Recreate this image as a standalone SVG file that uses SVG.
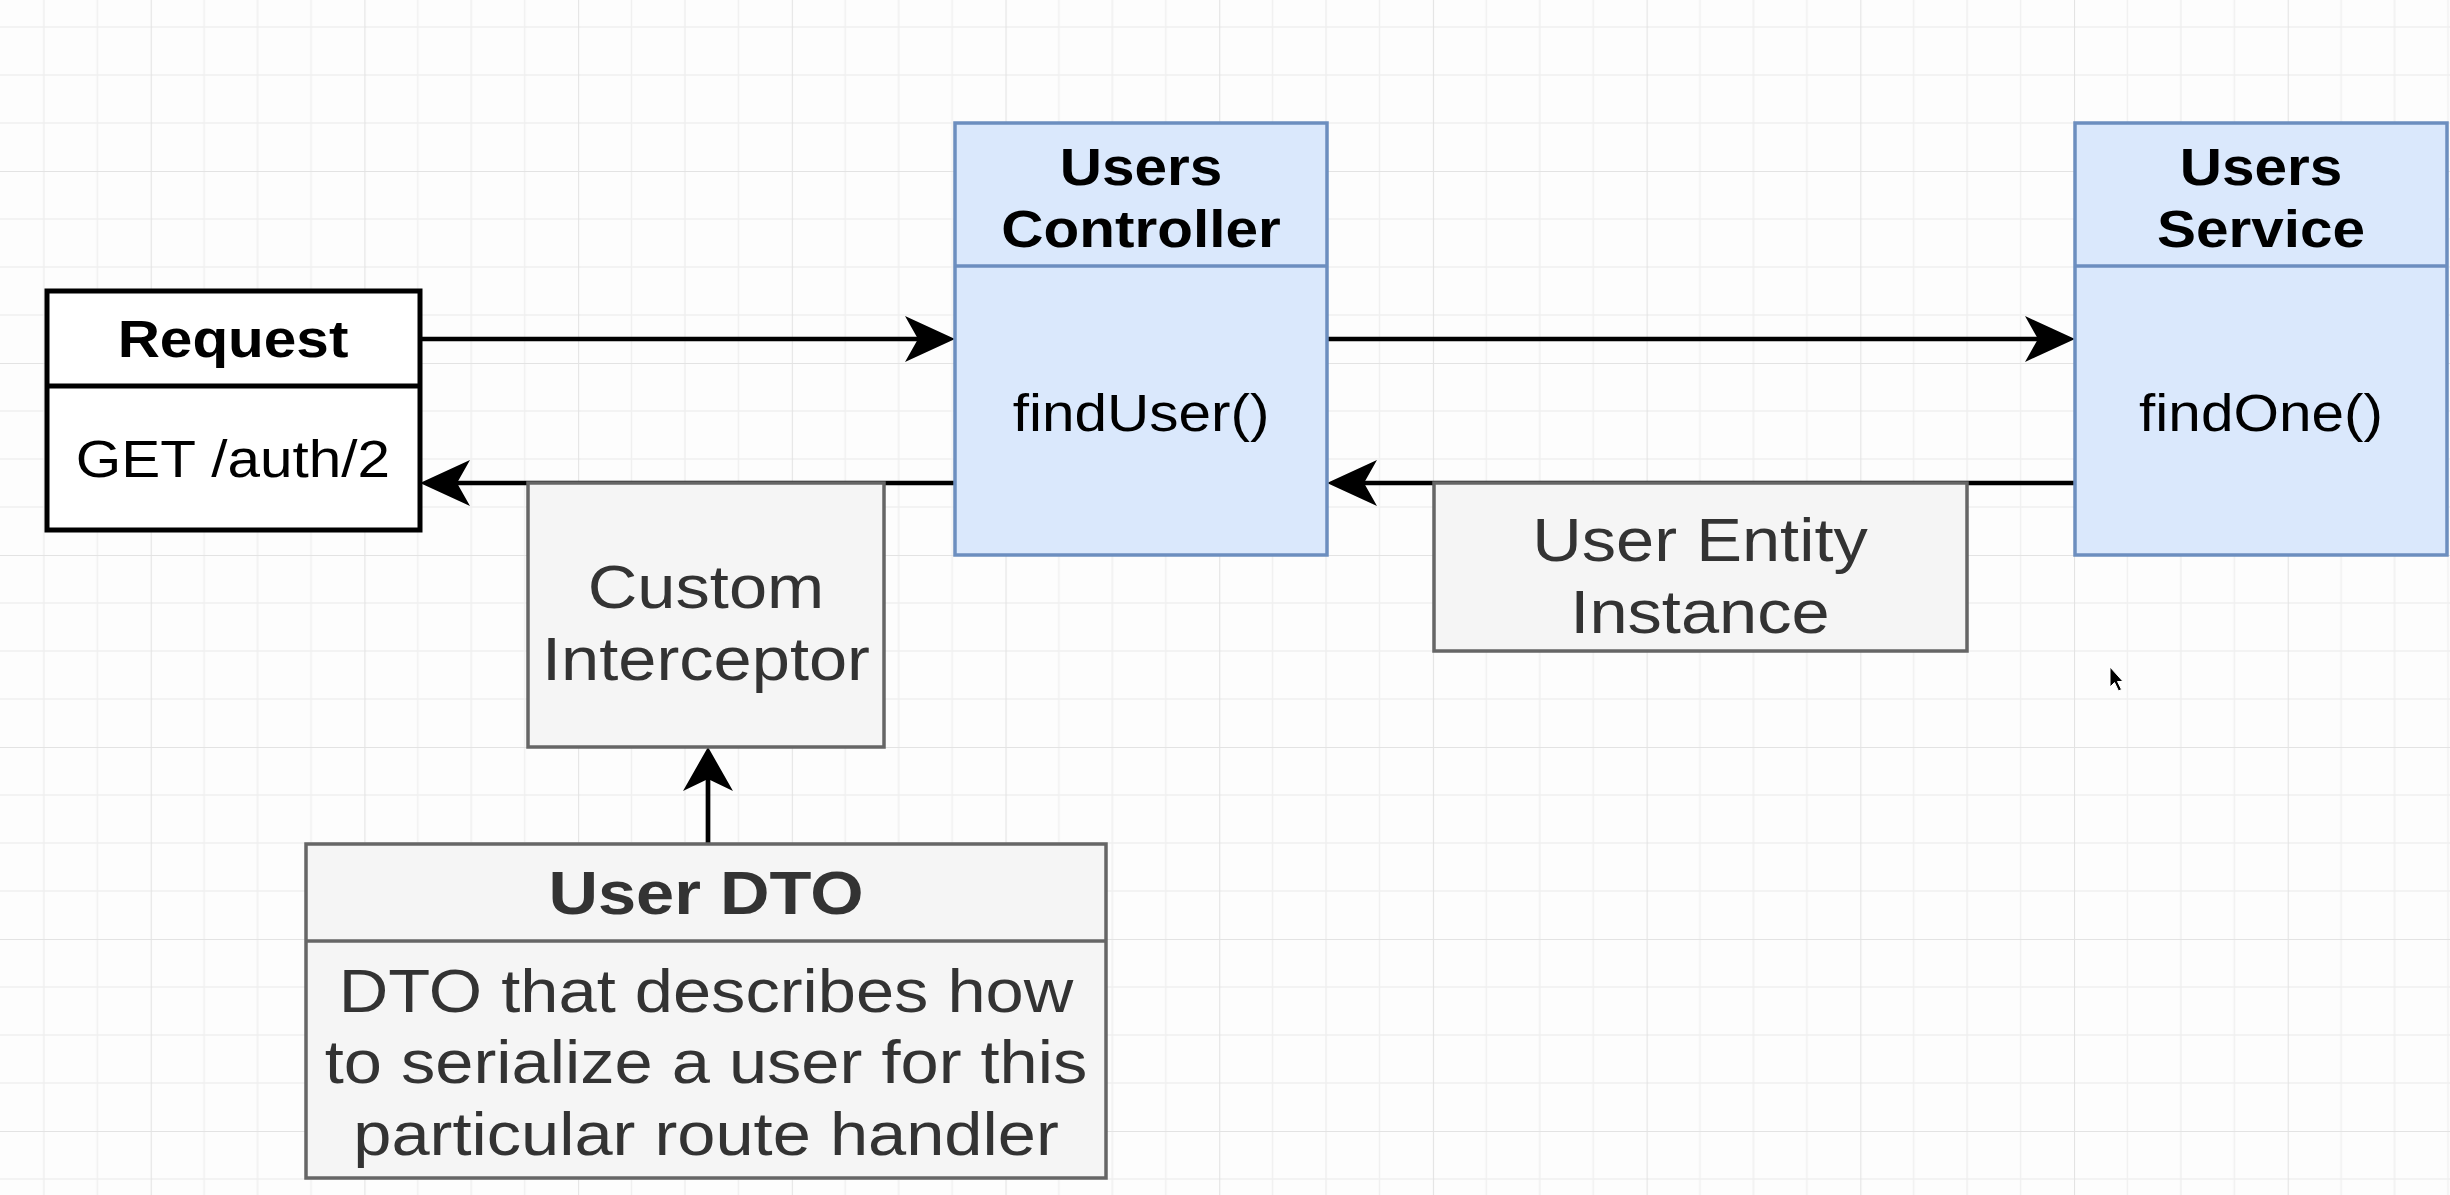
<svg xmlns="http://www.w3.org/2000/svg" width="2450" height="1195" viewBox="0 0 2450 1195">
<style>
.t{font-family:"Liberation Sans",Arial,Helvetica,sans-serif;text-anchor:middle}
.s{font-size:52px;fill:#000}
.l{font-size:61px;fill:#333}
.bd{font-weight:bold}
.blue{fill:#dae8fc;stroke:#6c8ebf;stroke-width:3.5}
.gray{fill:#f5f5f5;stroke:#666;stroke-width:3.5}
.plain{fill:#fff;stroke:#000;stroke-width:5}
.conn{fill:none;stroke:#000;stroke-width:4.7}
</style>
<defs>
<pattern id="grid" patternUnits="userSpaceOnUse" x="150.7" y="171" width="213.7" height="192">
<path d="M53.4,0V192M106.85,0V192M160.3,0V192M0,48H213.7M0,96H213.7M0,144H213.7" fill="none" stroke="#f0f0f0" stroke-width="1.5"/>
<path d="M0,0V192M0,0H213.7" fill="none" stroke="#e3e3e3" stroke-width="2.2"/>
</pattern>
<marker id="arrowH" markerUnits="userSpaceOnUse" viewBox="0 0 50 46" markerWidth="50" markerHeight="46" refX="40" refY="23" orient="auto">
<path d="M0,0L50,23L0,46L13,23Z" fill="#000"/>
</marker>
<marker id="arrowV" markerUnits="userSpaceOnUse" viewBox="0 0 44 50" markerWidth="44" markerHeight="50" refX="34" refY="25" orient="auto">
<path d="M0,0L44,25L0,50L12,25Z" fill="#000"/>
</marker>
</defs>
<rect width="2450" height="1195" fill="#fdfdfd"/>
<rect width="2450" height="1195" fill="url(#grid)"/>

<g id="connectors">
<path class="conn" d="M420,339H945" marker-end="url(#arrowH)"/>
<path class="conn" d="M1327,339H2065" marker-end="url(#arrowH)"/>
<path class="conn" d="M2075,483H1337" marker-end="url(#arrowH)"/>
<path class="conn" d="M955,483H430" marker-end="url(#arrowH)"/>
<path class="conn" d="M708,844V757" marker-end="url(#arrowV)"/>
</g>

<g id="request">
<rect class="plain" x="47" y="291" width="373" height="239"/>
<line x1="47" y1="386" x2="420" y2="386" stroke="#000" stroke-width="5"/>
<text class="t s bd" transform="matrix(1.125 0 0 1 233 0)" x="0" y="357">Request</text>
<text class="t s" transform="matrix(1.125 0 0 1 233 0)" x="0" y="477">GET /auth/2</text>
</g>

<g id="users-controller">
<rect class="blue" x="955" y="123" width="372" height="432"/>
<line x1="955" y1="266" x2="1327" y2="266" stroke="#6c8ebf" stroke-width="3.5"/>
<text class="t s bd" transform="matrix(1.125 0 0 1 1141 0)" x="0" y="185">Users</text>
<text class="t s bd" transform="matrix(1.125 0 0 1 1141 0)" x="0" y="247">Controller</text>
<text class="t s" transform="matrix(1.125 0 0 1 1141 0)" x="0" y="431">findUser()</text>
</g>

<g id="users-service">
<rect class="blue" x="2075" y="123" width="372" height="432"/>
<line x1="2075" y1="266" x2="2447" y2="266" stroke="#6c8ebf" stroke-width="3.5"/>
<text class="t s bd" transform="matrix(1.125 0 0 1 2261 0)" x="0" y="185">Users</text>
<text class="t s bd" transform="matrix(1.125 0 0 1 2261 0)" x="0" y="247">Service</text>
<text class="t s" transform="matrix(1.125 0 0 1 2261 0)" x="0" y="431">findOne()</text>
</g>

<g id="custom-interceptor">
<rect class="gray" x="528" y="483" width="356" height="264"/>
<text class="t l" transform="matrix(1.125 0 0 1 706 0)" x="0" y="608">Custom</text>
<text class="t l" transform="matrix(1.125 0 0 1 706 0)" x="0" y="680">Interceptor</text>
</g>

<g id="user-entity-instance">
<rect class="gray" x="1434" y="483" width="533" height="168"/>
<text class="t l" transform="matrix(1.125 0 0 1 1700 0)" x="0" y="561">User Entity</text>
<text class="t l" transform="matrix(1.125 0 0 1 1700 0)" x="0" y="633">Instance</text>
</g>

<g id="user-dto">
<rect class="gray" x="306" y="844" width="800" height="334"/>
<line x1="306" y1="941" x2="1106" y2="941" stroke="#666" stroke-width="3.5"/>
<text class="t l bd" transform="matrix(1.125 0 0 1 706 0)" x="0" y="914">User DTO</text>
<text class="t l" transform="matrix(1.125 0 0 1 706 0)" x="0" y="1012">DTO that describes how</text>
<text class="t l" transform="matrix(1.125 0 0 1 706 0)" x="0" y="1083">to serialize a user for this</text>
<text class="t l" transform="matrix(1.125 0 0 1 706 0)" x="0" y="1155">particular route handler</text>
</g>

<path d="M2110,667V687L2114.5,682.5L2118.5,691L2121.5,689.5L2117.5,681.5H2123Z" fill="#000" stroke="#fff" stroke-width="1"/>
</svg>
